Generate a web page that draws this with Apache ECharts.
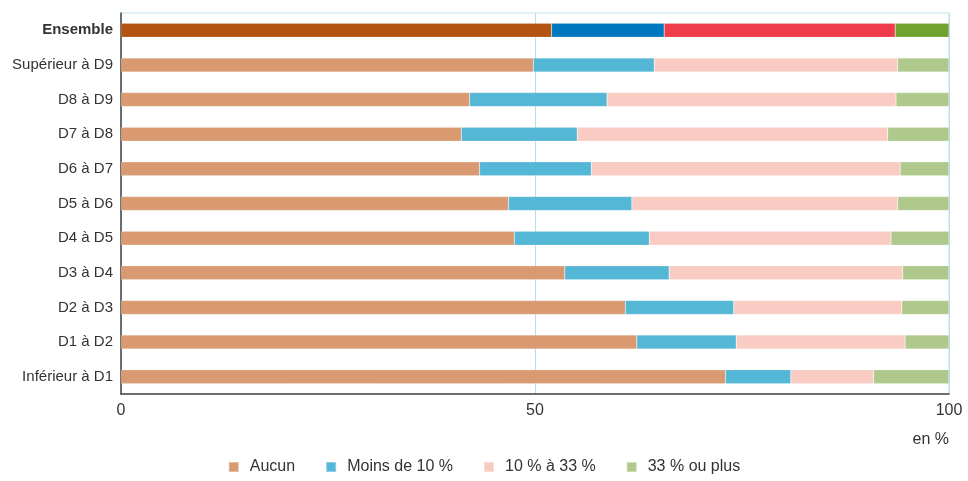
<!DOCTYPE html>
<html><head><meta charset="utf-8">
<script src="https://cdn.jsdelivr.net/npm/echarts@6/dist/echarts.min.js"></script>
<style>html,body{margin:0;padding:0;background:#fff}#c{width:968px;height:481px}</style>
</head><body><div id="c"></div>
<script>
const categories = ['Ensemble','Supérieur à D9','D8 à D9','D7 à D8','D6 à D7','D5 à D6','D4 à D5','D3 à D4','D2 à D3','D1 à D2','Inférieur à D1'];
const seriesNames = ['Aucun','Moins de 10 %','10 % à 33 %','33 % ou plus'];
const aucun  = [52.0,49.8,42.1,41.1,43.3,46.8,47.5,53.6,60.9,62.3,73.0];
const moins10 = [13.6,14.6,16.6,14.0,13.5,14.9,16.3,12.6,13.1,12.0,7.9];
const de10a33 = [27.9,29.4,34.9,37.5,37.3,32.1,29.2,28.2,20.3,20.4,10.0];
const plus33 = [6.5,6.2,6.4,7.4,5.9,6.2,7.0,5.6,5.7,5.3,9.1];
const xTicks = [0,50,100];

const colors = ['#D99A72','#55B7D6','#F9CBC3','#AFC98C'];
const ensembleColors = ['#B35413','#0077BF','#EF3B4A','#70A232'];
const FONT = '"Liberation Sans", Arial, sans-serif';
const values = [aucun, moins10, de10a33, plus33];

const chart = echarts.init(document.getElementById('c'), null, {renderer:'canvas'});
chart.setOption({
  animation:false,
  textStyle:{fontFamily:FONT},
  grid:{left:121,right:19,top:13,bottom:87,show:true,borderColor:'#C5E0F0',borderWidth:1},
  legend:{
    bottom:1,left:'center',itemWidth:10,itemHeight:10,itemGap:30,icon:'rect',
    textStyle:{fontFamily:FONT,fontSize:16,color:'#333',padding:[0,0,0,6]},
    data:seriesNames
  },
  xAxis:{
    type:'value',min:xTicks[0],max:xTicks[xTicks.length-1],interval:50,
    axisLine:{show:true,lineStyle:{color:'#444',width:1.5}},
    axisTick:{show:false},
    axisLabel:{fontFamily:FONT,fontSize:16,color:'#333',margin:9},
    splitLine:{show:true,lineStyle:{color:'#B9DCEF',width:1}}
  },
  yAxis:{
    type:'category',data:categories,inverse:true,
    axisLine:{show:true,lineStyle:{color:'#444',width:1.5}},
    axisTick:{show:false},
    axisLabel:{fontFamily:FONT,fontSize:15,color:'#333',margin:8,
      formatter:function(v){return v==='Ensemble'?'{b|'+v+'}':v;},
      rich:{b:{fontFamily:FONT,fontSize:15,fontWeight:'bold',color:'#333'}}}
  },
  graphic:[{type:'text',right:19,top:432,style:{text:'en %',font:'16px '+FONT,fill:'#333'}}],
  series: seriesNames.map((n,i)=>({
    name:n,type:'bar',stack:'t',barWidth:14,
    itemStyle:{color:colors[i],borderColor:'rgba(255,255,255,0.35)',borderWidth:0.5},
    data: values[i].map((v,j)=> j===0 ? {value:v,itemStyle:{color:ensembleColors[i]}} : v)
  }))
});
</script></body></html>
